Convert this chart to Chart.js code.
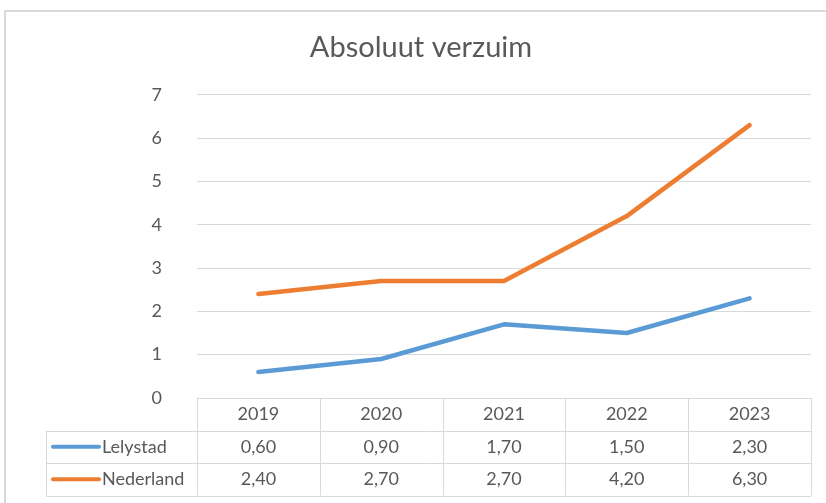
<!DOCTYPE html>
<html>
<head>
<meta charset="utf-8">
<script src="https://cdn.jsdelivr.net/npm/chart.js@4.4.1/dist/chart.umd.min.js"></script>
<style>
    html, body { margin: 0; padding: 0; background: #fff; overflow: hidden; }
    #frame { position: absolute; left: 4px; top: 10px; width: 900px; height: 600px; border: 2px solid #d9d9d9; }
    #wrap { position: absolute; left: 0; top: 0; width: 826px; height: 503px; }
</style>
</head>
<body>
<div id="frame"></div>
<div id="wrap"><canvas id="chart" width="826" height="503"></canvas></div>
<script>
// Chart data
const years = ['2019', '2020', '2021', '2022', '2023'];
const lelystad = [0.6, 0.9, 1.7, 1.5, 2.3];
const nederland = [2.4, 2.7, 2.7, 4.2, 6.3];
const yTicks = [0, 1, 2, 3, 4, 5, 6, 7];

const FONT = 'Lato, "Noto Sans", sans-serif';
const TEXT = '#595959';
const GRID = '#d9d9d9';

// Draws the Excel-style data table under the plot area
const dataTablePlugin = {
    id: 'dataTable',
    afterDraw(chart) {
        const ctx = chart.ctx;
        const area = chart.chartArea;
        const x = chart.scales.x;
        const top = area.bottom;
        const rowH = 32.5;
        const legendLeft = 46.5;
        const colW = (area.right - area.left) / years.length;

        ctx.save();
        ctx.strokeStyle = GRID;
        ctx.lineWidth = 1;

        // horizontal lines
        ctx.beginPath();
        ctx.moveTo(area.left, top + 0.5);
        ctx.lineTo(area.right, top + 0.5);
        for (let r = 1; r <= 3; r++) {
            const y = Math.round(top + r * rowH) + 0.5;
            ctx.moveTo(legendLeft, y);
            ctx.lineTo(area.right, y);
        }
        // vertical lines
        for (let c = 0; c <= years.length; c++) {
            const xx = Math.round(area.left + c * colW) + 0.5;
            ctx.moveTo(xx, top);
            ctx.lineTo(xx, top + 3 * rowH);
        }
        ctx.moveTo(legendLeft, top + rowH);
        ctx.lineTo(legendLeft, top + 3 * rowH);
        ctx.stroke();

        // series rows
        ctx.font = '18px ' + FONT;
        ctx.textBaseline = 'middle';
        chart.data.datasets.forEach((ds, i) => {
            const cy = top + rowH * (i + 1.5);
            ctx.strokeStyle = ds.borderColor;
            ctx.lineWidth = 4;
            ctx.lineCap = 'round';
            ctx.beginPath();
            ctx.moveTo(53, cy);
            ctx.lineTo(99, cy);
            ctx.stroke();

            ctx.fillStyle = TEXT;
            ctx.textAlign = 'left';
            ctx.fillText(ds.label, 102, cy);

            ctx.textAlign = 'center';
            ds.data.forEach((v, j) => {
                ctx.fillText(v.toFixed(2).replace('.', ','), x.getPixelForValue(j), cy);
            });
        });
        ctx.restore();
    }
};

new Chart(document.getElementById('chart'), {
    type: 'line',
    data: {
        labels: years,
        datasets: [
            { label: 'Lelystad', data: lelystad, borderColor: '#5b9bd5' },
            { label: 'Nederland', data: nederland, borderColor: '#ed7d31' }
        ]
    },
    options: {
        responsive: false,
        animation: false,
        layout: { padding: { left: 31, right: 15, top: 10, bottom: 0 } },
        elements: {
            line: { borderWidth: 4.5, borderCapStyle: 'round', borderJoinStyle: 'round', tension: 0 },
            point: { radius: 0 }
        },
        plugins: {
            legend: { display: false },
            tooltip: { enabled: false },
            title: {
                display: true,
                text: 'Absoluut verzuim',
                color: TEXT,
                font: { family: FONT, size: 29, weight: 'normal' },
                padding: { top: 20, bottom: 30 }
            }
        },
        scales: {
            x: {
                offset: true,
                grid: { display: false },
                border: { display: false },
                ticks: { color: TEXT, font: { family: FONT, size: 18 }, padding: -3, maxRotation: 0 },
                afterFit(scale) { scale.height = 105; }
            },
            y: {
                min: 0,
                max: 7,
                afterBuildTicks(scale) { scale.ticks = yTicks.map(v => ({ value: v })); },
                grid: { color: GRID, drawTicks: false },
                border: { display: false },
                ticks: { color: TEXT, font: { family: FONT, size: 18 }, padding: 35 },
                afterFit(scale) { scale.width = 166; }
            }
        }
    },
    plugins: [dataTablePlugin]
});
</script>
</body>
</html>
